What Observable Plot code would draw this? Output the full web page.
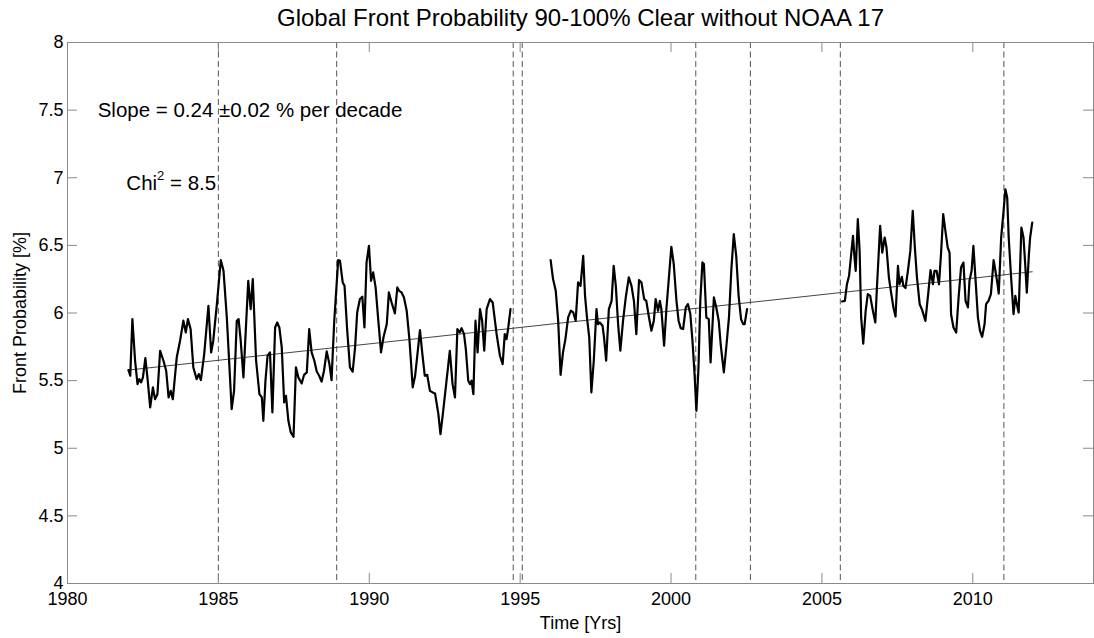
<!DOCTYPE html>
<html><head><meta charset="utf-8">
<script src="https://cdn.jsdelivr.net/npm/d3@7"></script>
<script src="https://cdn.jsdelivr.net/npm/@observablehq/plot@0.6"></script>
<style>html,body{margin:0;padding:0;background:#fff} svg{display:block}</style>
</head><body><div id="chart"></div>
<script>
const titleText = "Global Front Probability 90-100% Clear without NOAA 17";
const xLabel = "Time [Yrs]";
const yLabel = "Front Probability [%]";
const slopeLabel = "Slope = 0.24 \u00B10.02 % per decade";
const chiParts = ["Chi", "2", " = 8.5"];
const xTicks = [1980, 1985, 1990, 1995, 2000, 2005, 2010];
const yTicks = [4, 4.5, 5, 5.5, 6, 6.5, 7, 7.5, 8];
const satelliteChanges = [1985.0, 1988.92, 1994.77, 1995.07, 2000.82, 2002.63, 2005.61, 2011.03];
const trend = [[1982.02, 5.578], [2011.97, 6.305]];

const seg1 = [
[1982.02,5.578],[1982.08,5.536],[1982.15,5.955],[1982.24,5.647],[1982.32,5.474],[1982.38,5.511],[1982.44,5.487],[1982.50,5.524],
[1982.58,5.667],[1982.66,5.499],[1982.74,5.302],[1982.83,5.450],[1982.90,5.363],[1982.98,5.400],[1983.07,5.721],[1983.18,5.647],
[1983.27,5.573],[1983.35,5.376],[1983.42,5.425],[1983.49,5.363],[1983.62,5.671],[1983.73,5.795],[1983.84,5.943],[1983.92,5.856],
[1983.99,5.955],[1984.08,5.881],[1984.17,5.597],[1984.28,5.511],[1984.35,5.548],[1984.42,5.504],[1984.53,5.696],[1984.67,6.053],
[1984.76,5.708],[1984.83,5.795],[1984.95,6.066],[1985.08,6.391],[1985.17,6.312],[1985.28,5.967],[1985.44,5.289],[1985.52,5.425],
[1985.61,5.943],[1985.67,5.955],[1985.74,5.795],[1985.83,5.524],[1985.99,6.238],[1986.07,6.029],[1986.14,6.251],[1986.25,5.647],
[1986.36,5.400],[1986.44,5.376],[1986.49,5.203],[1986.56,5.499],[1986.63,5.684],[1986.71,5.708],[1986.79,5.265],
[1986.88,5.893],[1986.95,5.930],[1987.02,5.893],[1987.10,5.745],[1987.18,5.339],[1987.24,5.388],[1987.32,5.203],[1987.40,5.117],
[1987.49,5.085],[1987.57,5.598],[1987.65,5.524],[1987.76,5.479],[1987.84,5.543],[1987.93,5.561],[1988.01,5.881],[1988.09,5.709],
[1988.18,5.647],[1988.26,5.568],[1988.34,5.536],[1988.42,5.492],[1988.50,5.573],[1988.59,5.716],[1988.68,5.622],[1988.75,5.504],
[1988.84,5.943],[1988.97,6.391],[1989.03,6.386],[1989.12,6.226],[1989.18,6.201],[1989.27,5.869],[1989.36,5.598],[1989.45,5.566],
[1989.53,5.745],[1989.60,6.004],[1989.69,6.103],[1989.77,6.120],[1989.84,5.893],[1989.91,6.374],[1989.99,6.497],[1990.06,6.238],
[1990.13,6.300],[1990.21,6.189],[1990.30,5.943],[1990.39,5.709],[1990.47,5.819],[1990.58,5.918],[1990.65,6.152],[1990.74,6.078],
[1990.85,5.997],[1990.93,6.189],[1990.99,6.164],[1991.07,6.152],[1991.15,6.115],[1991.24,6.017],[1991.33,5.807],[1991.44,5.450],
[1991.52,5.536],[1991.62,5.745],[1991.68,5.874],[1991.76,5.696],[1991.84,5.536],[1991.92,5.543],[1992.01,5.425],[1992.10,5.413],
[1992.18,5.405],[1992.29,5.253],[1992.36,5.105],[1992.45,5.277],[1992.56,5.499],[1992.67,5.721],[1992.76,5.474],[1992.84,5.376],
[1992.92,5.881],[1993.00,5.856],[1993.06,5.888],[1993.14,5.844],[1993.20,5.733],[1993.28,5.499],[1993.34,5.474],[1993.39,5.499],
[1993.45,5.400],[1993.52,5.943],[1993.59,5.709],[1993.67,6.029],[1993.74,5.943],[1993.81,5.721],[1993.89,6.029],[1994.00,6.103],
[1994.09,6.078],[1994.22,5.844],[1994.33,5.684],[1994.42,5.622],[1994.49,5.844],[1994.55,5.807],[1994.60,5.881],[1994.68,6.029]
];
const seg2 = [
[1996.01,6.391],[1996.09,6.251],[1996.18,6.164],[1996.26,5.943],[1996.34,5.543],[1996.42,5.709],[1996.50,5.807],[1996.59,5.967],
[1996.68,6.017],[1996.76,6.004],[1996.84,5.943],[1996.92,6.226],[1997.00,6.201],[1997.09,6.423],[1997.15,6.127],[1997.22,5.955],
[1997.29,5.819],[1997.36,5.413],[1997.44,5.647],[1997.53,6.029],[1997.58,5.918],[1997.64,5.930],[1997.73,5.906],[1997.78,5.819],
[1997.85,5.647],[1997.94,6.029],[1998.03,6.090],[1998.10,6.349],[1998.17,6.201],[1998.25,5.906],[1998.32,5.721],[1998.41,5.943],
[1998.50,6.115],[1998.60,6.263],[1998.69,6.201],[1998.77,6.090],[1998.85,5.844],[1998.94,6.243],[1999.02,6.226],[1999.11,6.103],
[1999.18,6.090],[1999.27,5.967],[1999.35,5.869],[1999.43,5.943],[1999.49,6.103],[1999.57,6.017],[1999.63,6.090],[1999.68,6.029],
[1999.77,5.758],[1999.85,6.041],[1999.93,6.263],[2000.01,6.490],[2000.09,6.362],[2000.18,6.090],[2000.25,5.943],[2000.32,5.888],
[2000.40,5.881],[2000.49,6.041],[2000.56,6.066],[2000.64,5.992],[2000.71,5.795],[2000.78,5.548],[2000.84,5.277],[2000.91,5.598],
[2000.97,6.090],[2001.04,6.374],[2001.09,6.362],[2001.17,5.967],[2001.25,5.955],[2001.31,5.635],[2001.37,5.893],[2001.42,6.115],
[2001.50,6.041],[2001.58,5.943],[2001.65,5.758],[2001.75,5.561],[2001.83,5.745],[2001.92,5.967],[2002.00,6.325],[2002.08,6.583],
[2002.16,6.423],[2002.24,6.127],[2002.32,5.955],[2002.39,5.918],[2002.44,5.918],[2002.52,6.029]
];
const seg3 = [
[2005.67,6.085],[2005.76,6.090],[2005.83,6.213],[2005.90,6.275],[2006.03,6.570],[2006.08,6.410],[2006.12,6.312],[2006.19,6.694],
[2006.25,6.459],[2006.30,5.967],[2006.37,5.774],[2006.45,6.016],[2006.52,6.139],[2006.60,6.127],[2006.69,6.016],[2006.77,5.930],
[2006.82,6.176],[2006.93,6.644],[2007.00,6.447],[2007.08,6.558],[2007.14,6.484],[2007.22,6.262],[2007.30,6.139],[2007.37,6.041],
[2007.44,5.974],[2007.52,6.349],[2007.57,6.213],[2007.65,6.267],[2007.70,6.201],[2007.77,6.184],[2007.85,6.312],[2007.93,6.459],
[2008.01,6.755],[2008.08,6.484],[2008.15,6.262],[2008.24,6.065],[2008.32,6.023],[2008.43,5.942],[2008.51,6.115],[2008.60,6.317],
[2008.68,6.213],[2008.73,6.312],[2008.80,6.312],[2008.88,6.213],[2008.95,6.447],[2009.02,6.731],[2009.10,6.595],[2009.17,6.484],
[2009.23,6.447],[2009.28,5.991],[2009.36,5.893],[2009.45,5.856],[2009.53,6.115],[2009.61,6.336],[2009.69,6.373],[2009.76,6.090],
[2009.84,6.041],[2009.89,6.238],[2009.96,6.312],[2010.02,6.496],[2010.09,6.250],[2010.17,5.967],[2010.24,5.868],[2010.31,5.824],
[2010.39,5.917],[2010.44,6.065],[2010.52,6.090],[2010.60,6.139],[2010.69,6.391],[2010.75,6.312],[2010.82,6.213],[2010.86,6.144],
[2010.94,6.558],[2011.02,6.755],[2011.08,6.915],[2011.14,6.854],[2011.19,6.558],[2011.27,6.262],[2011.35,5.991],[2011.41,6.127],
[2011.46,6.065],[2011.52,6.004],[2011.61,6.632],[2011.68,6.558],[2011.73,6.386],[2011.79,6.151],[2011.86,6.435],[2011.90,6.558],
[2011.97,6.669]
];

const W = 1094, H = 638, mL = 67, mR = 1, mT = 42, mB = 55;
const plotW = W - mL - mR, plotH = H - mT - mB, tickLen = 10;
const grey = "#8a8a8a";
const px = d => d[0], py = d => d[1];

const chart = Plot.plot({
  width: W, height: H,
  marginLeft: mL, marginRight: mR, marginTop: mT, marginBottom: mB,
  style: {fontFamily: "'Liberation Sans', Arial, Helvetica, sans-serif", fontSize: "18px", background: "#fff", color: "#000", overflow: "visible"},
  x: {domain: [1980, 2014]},
  y: {domain: [4, 8]},
  marks: [
    Plot.ruleX(satelliteChanges, {stroke: "#555", strokeWidth: 1, strokeDasharray: "6,3.5"}),
    Plot.ruleX(xTicks, {stroke: grey, insetTop: plotH - tickLen}),
    Plot.ruleX(xTicks, {stroke: grey, insetBottom: plotH - tickLen}),
    Plot.ruleY(yTicks, {stroke: grey, insetRight: plotW - tickLen}),
    Plot.ruleY(yTicks, {stroke: grey, insetLeft: plotW - tickLen}),
    Plot.frame({stroke: grey, strokeWidth: 1}),
    Plot.line(trend, {x: px, y: py, stroke: "#444", strokeWidth: 1}),
    Plot.line(seg1, {x: px, y: py, stroke: "#000", strokeWidth: 2.2, strokeLinejoin: "round"}),
    Plot.line(seg2, {x: px, y: py, stroke: "#000", strokeWidth: 2.2, strokeLinejoin: "round"}),
    Plot.line(seg3, {x: px, y: py, stroke: "#000", strokeWidth: 2.2, strokeLinejoin: "round"}),
    Plot.axisX(xTicks, {tickSize: 0, tickPadding: 9, tickFormat: "d", label: null, fill: "#000"}),
    Plot.axisY(yTicks, {tickSize: 0, tickPadding: 4, tickFormat: d => String(d), label: null, fill: "#000"}),
    Plot.text([xLabel], {text: d => d, frameAnchor: "bottom", lineAnchor: "middle", dy: 40, fill: "#000"}),
    Plot.text([yLabel], {text: d => d, frameAnchor: "left", textAnchor: "middle", dx: -47, rotate: -90, fill: "#000"}),
    Plot.text([titleText], {text: d => d, frameAnchor: "top", lineAnchor: "middle", dy: -24, fontSize: 24, fill: "#000"}),
    Plot.text([slopeLabel], {text: d => d, x: 1981.0, y: 7.5, textAnchor: "start", fontSize: 20.5, fill: "#000"}),
    Plot.text([chiParts.join("")], {text: d => d, x: 1981.95, y: 6.96, textAnchor: "start", fontSize: 20.5, fill: "#000"})
  ]
});

// superscript for "Chi2"
chart.querySelectorAll("text").forEach(t => {
  if (t.textContent === chiParts.join("")) {
    t.textContent = "";
    const ns = "http://www.w3.org/2000/svg";
    const a = document.createElementNS(ns, "tspan"); a.textContent = chiParts[0];
    const b = document.createElementNS(ns, "tspan"); b.textContent = chiParts[1];
    b.setAttribute("dy", "-10"); b.setAttribute("font-size", "13");
    const c = document.createElementNS(ns, "tspan"); c.textContent = chiParts[2];
    c.setAttribute("dy", "10");
    t.append(a, b, c);
  }
});
document.getElementById("chart").append(chart);
</script>
</body></html>
